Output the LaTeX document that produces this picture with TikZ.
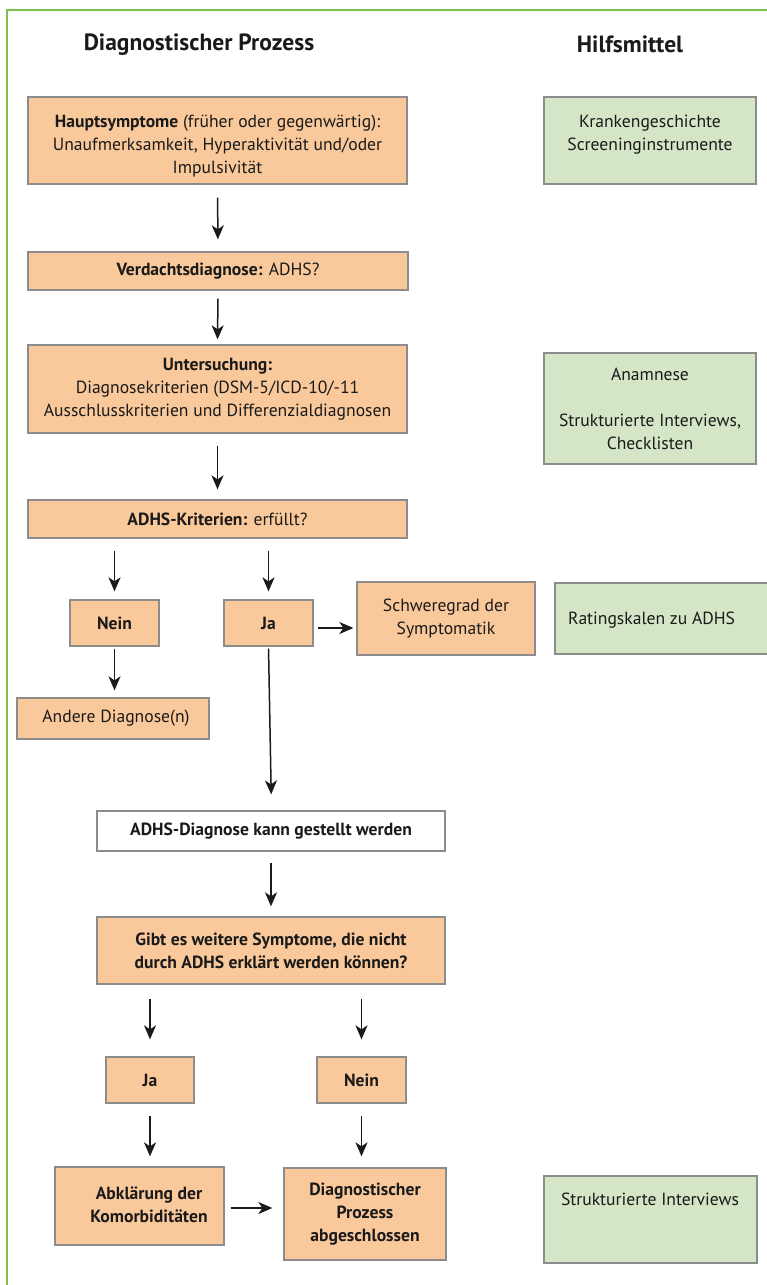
\documentclass[tikz,border=0pt]{standalone}
\usepackage{fontspec}
\setmainfont{PT Sans}
\usetikzlibrary{arrows.meta}
\definecolor{org}{HTML}{F9C99B}
\definecolor{grn}{HTML}{D5E6C7}
\definecolor{bord}{HTML}{8C8C8C}
\definecolor{framegreen}{HTML}{7CC04E}
\definecolor{ink}{HTML}{1A1A1A}
\begin{document}
\begin{tikzpicture}[x=1pt,y=-1pt,
  box/.style={draw=bord, line width=1.3pt, inner sep=0pt, align=center, text=ink,
    font=\fontsize{17.6}{23}\selectfont},
  obox/.style={box, fill=org},
  gbox/.style={box, fill=grn},
  wbox/.style={box, fill=white},
  txt/.style={inner sep=0pt, align=center, text=ink, font=\fontsize{17.6}{23}\selectfont},
  head/.style={inner sep=0pt, text=ink, font=\fontsize{23.5}{27}\selectfont\bfseries},
  arr/.style={line width=1.5pt, draw=ink, -{Stealth[length=14pt,width=12pt,inset=4pt]}}
]
\useasboundingbox (0,0) rectangle (767,1285);
% frame
\draw[framegreen, line width=2.8pt] (7,1290) -- (7,10) -- (770,10);

% headings
\node[head] (h1) at (199,45) {Diagnostischer Prozess};
\node[head] (h2) at (630,44) {Hilfsmittel};

% left column boxes
\node[obox, minimum width=379pt, minimum height=87pt] (b1) at (217.5,140.5) {};
\node[txt] (b1t) at (217.5,146) {\textbf{Hauptsymptome} (früher oder gegenwärtig):\\Unaufmerksamkeit, Hyperaktivität und/oder\\Impulsivität};
\node[obox, minimum width=380pt, minimum height=38pt] (b2) at (218,271) {\textbf{Verdachtsdiagnose:} ADHS?};
\node[obox, minimum width=379pt, minimum height=88pt] (b3) at (217.5,389) {\textbf{Untersuchung:}\\Diagnosekriterien (DSM-5/ICD-10/-11\\Ausschlusskriterien und Differenzialdiagnosen};
\node[obox, minimum width=379pt, minimum height=38pt] (b4) at (217.5,519) {\textbf{ADHS-Kriterien:} erfüllt?};
\node[obox, minimum width=89pt, minimum height=46pt] (nein1) at (114.5,623) {\textbf{Nein}};
\node[obox, minimum width=89pt, minimum height=46pt] (ja1) at (268.5,623) {\textbf{Ja}};
\node[obox, minimum width=178pt, minimum height=73pt] (schw) at (446,618.5) {Schweregrad der\\Symptomatik};
\node[obox, minimum width=192pt, minimum height=41pt] (andere) at (113,718.5) {\hspace{6pt}Andere Diagnose(n)};
\node[wbox, minimum width=348pt, minimum height=40pt] (diag) at (271,831) {\textbf{ADHS-Diagnose kann gestellt werden}};
\node[obox, minimum width=348pt, minimum height=67pt] (gibt) at (271,950.5) {\textbf{Gibt es weitere Symptome, die nicht}\\\textbf{durch ADHS erklärt werden können?}};
\node[obox, minimum width=88pt, minimum height=46pt] (ja2) at (150,1080) {\textbf{Ja}};
\node[obox, minimum width=89pt, minimum height=46pt] (nein2) at (361.5,1080) {\textbf{Nein}};
\node[obox, minimum width=169pt, minimum height=78pt] (abk) at (139.5,1206) {};
\node[txt] (abkt) at (149,1205) {\textbf{Abklärung der}\\\textbf{Komorbiditäten}};
\node[obox, minimum width=162pt, minimum height=92pt] (dpa) at (365,1214) {\textbf{Diagnostischer}\\\textbf{Prozess}\\\textbf{abgeschlossen}};

% right column boxes
\node[gbox, minimum width=212pt, minimum height=87pt] (g1) at (650,140.5) {};
\node[txt] (g1t) at (650,134.5) {Krankengeschichte\\Screeninginstrumente};
\node[gbox, minimum width=212pt, minimum height=111pt] (g2) at (650,408.5) {Anamnese\\\mbox{}\\Strukturierte Interviews,\\Checklisten};
\node[gbox, minimum width=214pt, minimum height=71pt] (rat) at (662,618.5) {};
\node[txt, anchor=west] (ratt) at (568,620) {Ratingskalen zu ADHS};
\node[gbox, minimum width=213pt, minimum height=87pt] (g3) at (650.5,1219.5) {};
\node[txt] (g3t) at (650,1199) {Strukturierte Interviews};

% connectors
\draw[arr, shorten <=13pt, shorten >=12pt] (b1.south) -- (b2.north);
\draw[arr, shorten <=8pt, shorten >=5pt] (b2.south) -- (b3.north);
\draw[arr, shorten <=12pt, shorten >=10pt] (b3.south) -- (b4.north);
\draw[arr, shorten <=12pt, shorten >=8pt] (b4.south -| nein1.north) -- (nein1.north);
\draw[arr, shorten <=12pt, shorten >=8pt] (b4.south -| ja1.north) -- (ja1.north);
\draw[arr, shorten <=4pt, shorten >=3pt] ([yshift=-5pt]ja1.east) -- ([yshift=-5pt]ja1.east -| schw.west);
\draw[arr, shorten <=2pt, shorten >=7pt] (nein1.south) -- (nein1.south |- andere.north);
\draw[arr, shorten <=2pt, shorten >=16pt] (ja1.south) -- ([xshift=3pt]ja1.south |- diag.north);
\draw[arr, shorten <=11pt, shorten >=10pt] (diag.south) -- (diag.south |- gibt.north);
\draw[arr, shorten <=14pt, shorten >=17pt] (gibt.south -| ja2.north) -- (ja2.north);
\draw[arr, shorten <=14pt, shorten >=17pt] (gibt.south -| nein2.north) -- (nein2.north);
\draw[arr, shorten <=12pt, shorten >=10pt] (ja2.south) -- (ja2.south |- abk.north);
\draw[arr, shorten <=12pt, shorten >=11pt] (nein2.south) -- (nein2.south |- dpa.north);
\draw[arr, shorten <=6pt, shorten >=11pt] ([yshift=-2pt]abk.east) -- ([yshift=-2pt]abk.east -| dpa.west);
\end{tikzpicture}
\end{document}
